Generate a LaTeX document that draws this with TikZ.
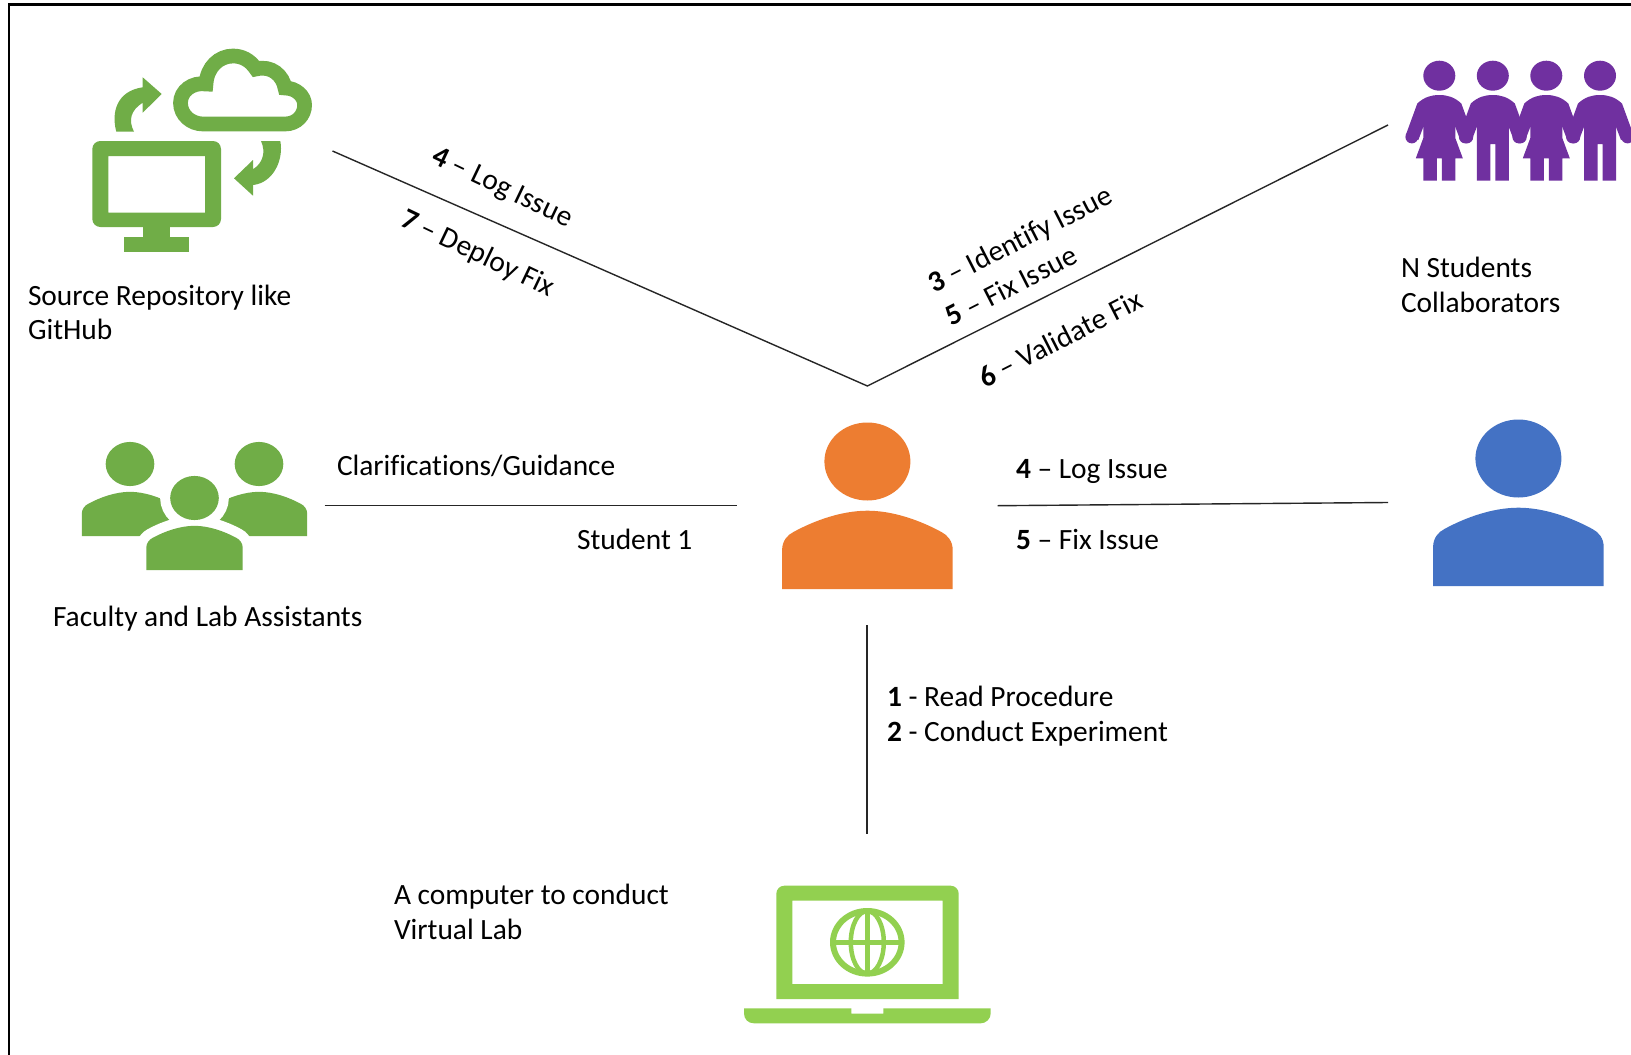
\documentclass[tikz,border=0pt]{standalone}
\usepackage{fontspec}
\setmainfont[Ligatures=NoCommon]{Carlito}
\definecolor{gitgreen}{HTML}{70AD47}
\definecolor{lapgreen}{HTML}{92D050}
\definecolor{stuorange}{HTML}{ED7D31}
\definecolor{stublue}{HTML}{4472C4}
\definecolor{stupurple}{HTML}{7030A0}
\tikzset{
  lbl/.style={inner sep=0pt,outer sep=0pt,anchor=base west,font=\fontsize{29.4}{35}\selectfont,text=black},
  rlbl/.style={inner sep=0pt,outer sep=0pt,anchor=center,font=\fontsize{29.4}{35}\selectfont,text=black},
  conn/.style={draw=black!85,line width=1.4pt}
}
% person glyph, drawn with its head centre at the origin
\newcommand{\personglyph}[1]{%
  \path[#1] (0,0) ellipse [x radius=43pt,y radius=39pt];
  \path[#1] (-85.3,127.5) -- (-85.3,88.5) .. controls (-85.3,79.5) and (-80,73.5) .. (-74,70.5)
    .. controls (-52,58.5) and (-25,49.2) .. (0,49.2)
    .. controls (25,49.2) and (52,58.5) .. (74,70.5)
    .. controls (80,73.5) and (85.3,79.5) .. (85.3,88.5) -- (85.3,127.5) -- cycle;
}
% arms and heads shared by the collaborators
\newcommand{\armsglyph}{%
  \fill[stupurple] (0,75.7) ellipse [x radius=16pt,y radius=15pt];
  \fill[stupurple] (-22,103.5) .. controls (-15,97) and (-8,95) .. (0,95) .. controls (8,95) and (15,97) .. (22,103.5)
     -- (33.5,135) -- (21,140) -- (16,127) -- (-16,127) -- (-21,140) -- (-33.5,135) -- cycle;
  \fill[stupurple] (-27.5,137) circle (6.4pt);
  \fill[stupurple] (27.5,137) circle (6.4pt);
}
\newcommand{\girlglyph}{%
  \armsglyph
  \fill[stupurple] (-16,120) -- (-16,138) -- (-23.5,158.3) -- (-16,158.3) -- (-16,180.7) -- (-2.5,180.7) -- (-2.5,158.3)
     -- (2.5,158.3) -- (2.5,180.7) -- (16,180.7) -- (16,158.3) -- (23.5,158.3) -- (16,138) -- (16,120) -- cycle;
}
\newcommand{\boyglyph}{%
  \armsglyph
  \fill[stupurple] (-16,120) -- (-16,180.7) -- (-2.5,180.7) -- (-2.5,144) -- (2.5,144) -- (2.5,180.7) -- (16,180.7) -- (16,120) -- cycle;
}
\begin{document}
\begin{tikzpicture}[x=1pt,y=-1pt]
\useasboundingbox (0,0) rectangle (1631,1055);
\fill[white] (0,0) rectangle (1631,1055);
% frame
\draw[black,line width=2.8pt] (9,1055) -- (9,4.3) -- (1631,4.3);

% repository icon
\fill[gitgreen,even odd rule,rounded corners=8pt] (92.3,141) rectangle (221,227)
   [sharp corners] (108.3,156) rectangle (205,212.7);
\fill[gitgreen] (143,225) rectangle (170,238);
\fill[gitgreen] (124.3,237) rectangle (189,251.7);
\draw[gitgreen,line width=14.7pt,line join=miter,miter limit=4]
  (203,124) -- (285,124) .. controls (297,124) and (304.6,115) .. (304.6,105)
  .. controls (304.6,96) and (296,88) .. (285,88)
  .. controls (283,76) and (272,65) .. (256,69)
  .. controls (250,60) and (242,56) .. (233,56)
  .. controls (219,56) and (207,67) .. (206,84)
  .. controls (192,82) and (180.5,91) .. (180.5,103)
  .. controls (180.5,115) and (191,124) .. (203,124) -- cycle;
\fill[gitgreen] (116.3,131.7) .. controls (111,112) and (117,91) .. (142.7,87.3) -- (142.7,77.3) -- (161.7,94) -- (142.7,112.7) -- (142.7,102.7)
   .. controls (131,110) and (128,120) .. (134,131.7) -- cycle;
\fill[gitgreen] (280.3,141) .. controls (284,160) and (273,183) .. (253,185) -- (253,195.7) -- (234,178.3) -- (253,160) -- (253,169.3)
   .. controls (263,163) and (266,152) .. (261,141) -- cycle;

% collaborators icon
\begin{scope}
\clip (0,0) rectangle (1631,1055);
\begin{scope}[shift={(1439.3,0)}]\girlglyph\end{scope}
\begin{scope}[shift={(1492.8,0)}]\boyglyph\end{scope}
\begin{scope}[shift={(1546.3,0)}]\girlglyph\end{scope}
\begin{scope}[shift={(1600,0)}]\boyglyph\end{scope}
\end{scope}

% faculty icon
\begin{scope}[shift={(130,464)},scale=.5655]\personglyph{fill=gitgreen}\end{scope}
\begin{scope}[shift={(259,464)},scale=.5655]\personglyph{fill=gitgreen}\end{scope}
\begin{scope}[shift={(194.5,498)},scale=.5655]
  \personglyph{fill=white,draw=white,line width=20pt}
  \personglyph{fill=gitgreen}
\end{scope}

% students
\begin{scope}[shift={(867.4,461.5)}]\personglyph{fill=stuorange}\end{scope}
\begin{scope}[shift={(1518.4,458.5)}]\personglyph{fill=stublue}\end{scope}

% laptop icon
\fill[lapgreen,even odd rule] (776.3,999) -- (776.3,893.7) arc [start angle=180,end angle=90,radius=8pt] -- (950.7,885.7)
   arc [start angle=90,end angle=0,radius=8pt] -- (958.7,999) -- cycle
   (792.3,900.7) rectangle (942.7,984);
\fill[lapgreen] (744,1008.3) -- (851.3,1008.3) -- (851.3,1013.7) -- (883.3,1013.7) -- (883.3,1008.3) -- (990.7,1008.3)
   -- (990.7,1013.3) .. controls (990.7,1019) and (986,1023.3) .. (980.7,1023.3) -- (754,1023.3)
   .. controls (748,1023.3) and (744,1019) .. (744,1013.3) -- cycle;
\draw[lapgreen,line width=6pt] (867.3,942.3) ellipse [x radius=34.3pt,y radius=31.3pt];
\draw[lapgreen,line width=4.5pt] (867.3,942.3) ellipse [x radius=16.5pt,y radius=31.3pt];
\draw[lapgreen,line width=5pt] (833,942.3) -- (901.6,942.3);
\draw[lapgreen,line width=5pt] (867.3,911) -- (867.3,973.6);

% connector ends
\coordinate (repoEnd) at (332.5,151);
\coordinate (vertex) at (867.4,386);
\coordinate (collabEnd) at (1388,125);
\coordinate (facultyEnd) at (324.5,505.7);
\coordinate (stuLeft) at (737,505.7);
\coordinate (stuRight) at (997.5,505.7);
\coordinate (peerEnd) at (1388,502.5);
\coordinate (stuBottom) at (867,625);
\coordinate (laptopTop) at (867,834);
\draw[conn] (repoEnd) -- (vertex) -- (collabEnd);
\draw[conn] (facultyEnd) -- (stuLeft);
\draw[conn] (stuRight) -- (peerEnd);
\draw[conn] (stuBottom) -- (laptopTop);

% labels
\node[lbl] (t1) at (28,305) {Source Repository like};
\node[lbl] (t2) at (28,339.5) {GitHub};
\node[lbl] (t3) at (1401,277.5) {N Students};
\node[lbl] (t4) at (1401,312.5) {Collaborators};
\node[lbl] (t5) at (53,626.5) {Faculty and Lab Assistants};
\node[lbl] (t6) at (337,475.5) {Clarifications/Guidance};
\node[lbl] (t7) at (577,549.5) {Student 1};
\node[lbl] (t8) at (1016,478.5) {\textbf{4} -- Log Issue};
\node[lbl] (t9) at (1016,549.5) {\textbf{5} -- Fix Issue};
\node[lbl] (t10) at (887,706.5) {\textbf{1} - Read Procedure};
\node[lbl] (t11) at (887,741.5) {\textbf{2} - Conduct Experiment};
\node[lbl] (t12) at (394,904.5) {A computer to conduct};
\node[lbl] (t13) at (394,939) {Virtual Lab};
\node[rlbl,rotate=-25.5] (r1) at (502,188.5) {\textbf{4} -- Log Issue};
\node[rlbl,rotate=-25.5] (r2) at (477.5,254) {\textbf{7} -- Deploy Fix};
\node[rlbl,rotate=27] (r3) at (1021,241) {\textbf{3} -- Identify Issue};
\node[rlbl,rotate=27] (r4) at (1011,285.5) {\textbf{5} -- Fix Issue};
\node[rlbl,rotate=27] (r5) at (1060.5,338.5) {\textbf{6} -- Validate Fix};
\end{tikzpicture}
\end{document}
